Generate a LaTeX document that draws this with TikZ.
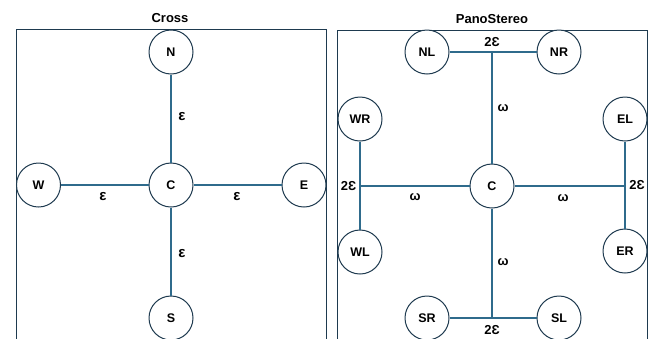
\documentclass[tikz,border=0pt]{standalone}
\usepackage{fontspec}
\setmainfont{Liberation Sans}
\definecolor{edgec}{HTML}{2F6B8C}
\definecolor{ringc}{HTML}{1E3A4F}
\begin{document}
\begin{tikzpicture}[x=1pt,y=-1pt,
  stn/.style={circle, draw=ringc, line width=1pt, fill=white, minimum size=44pt, inner sep=0pt, font=\bfseries\fontsize{12.5}{14}\selectfont},
  link/.style={draw=edgec, line width=1.6pt},
  lbl/.style={inner sep=0pt, font=\bfseries\fontsize{13}{15}\selectfont},
  eps/.style={inner sep=0pt, font=\bfseries\fontsize{15}{17}\selectfont},
  ttl/.style={inner sep=0pt, font=\bfseries\fontsize{13}{15}\selectfont},
  frm/.style={draw=ringc, line width=1pt}]
\useasboundingbox (0,0) rectangle (655,338);
\clip (0,0) rectangle (655,338);
% frames
\draw[frm] (16,350) -- (16,29.5) -- (326,29.5) -- (326,350);
\draw[frm] (337,350) -- (337,30) -- (647,30) -- (647,350);
% titles
\node[ttl] (t1) at (170,18) {Cross};
\node[ttl] (t2) at (492,19) {PanoStereo};
% Cross nodes
\node[stn] (N) at (171,52) {N};
\node[stn] (C1) at (171,185) {C};
\node[stn] (W) at (38.5,185) {W};
\node[stn] (E) at (304,185) {E};
\node[stn] (S) at (171,318) {S};
\draw[link] (N) -- (C1);
\draw[link] (W) -- (C1);
\draw[link] (C1) -- (E);
\draw[link] (C1) -- (S);
\node[eps] (e1) at (182,117) {ε};
\node[eps] (e2) at (103,197) {ε};
\node[eps] (e3) at (237,197) {ε};
\node[eps] (e4) at (182,254) {ε};
% PanoStereo nodes
\node[stn] (NL) at (427,52) {NL};
\node[stn] (NR) at (559,52) {NR};
\node[stn] (C2) at (492,186) {C};
\node[stn] (WR) at (360,119) {WR};
\node[stn] (WL) at (360,252) {WL};
\node[stn] (EL) at (625,119) {EL};
\node[stn] (ER) at (625,251) {ER};
\node[stn] (SR) at (427,318) {SR};
\node[stn] (SL) at (559,318) {SL};
\coordinate (jN) at (492,52);
\coordinate (jW) at (360,186);
\coordinate (jE) at (625,186);
\coordinate (jS) at (492,318);
\draw[link] (NL) -- (NR);
\draw[link] (jN) -- (C2);
\draw[link] (WR) -- (WL);
\draw[link] (jW) -- (C2);
\draw[link] (EL) -- (ER);
\draw[link] (C2) -- (jE);
\draw[link] (SR) -- (SL);
\draw[link] (C2) -- (jS);
\node[lbl] (p1) at (492,42) {2Ɛ};
\node[lbl] (p2) at (348.5,186) {2Ɛ};
\node[lbl] (p3) at (637,185) {2Ɛ};
\node[lbl] (p4) at (492,330) {2Ɛ};
\node[lbl] (w1) at (503,108) {ω};
\node[lbl] (w2) at (415,197) {ω};
\node[lbl] (w3) at (563,198) {ω};
\node[lbl] (w4) at (503,262) {ω};
\end{tikzpicture}
\end{document}
